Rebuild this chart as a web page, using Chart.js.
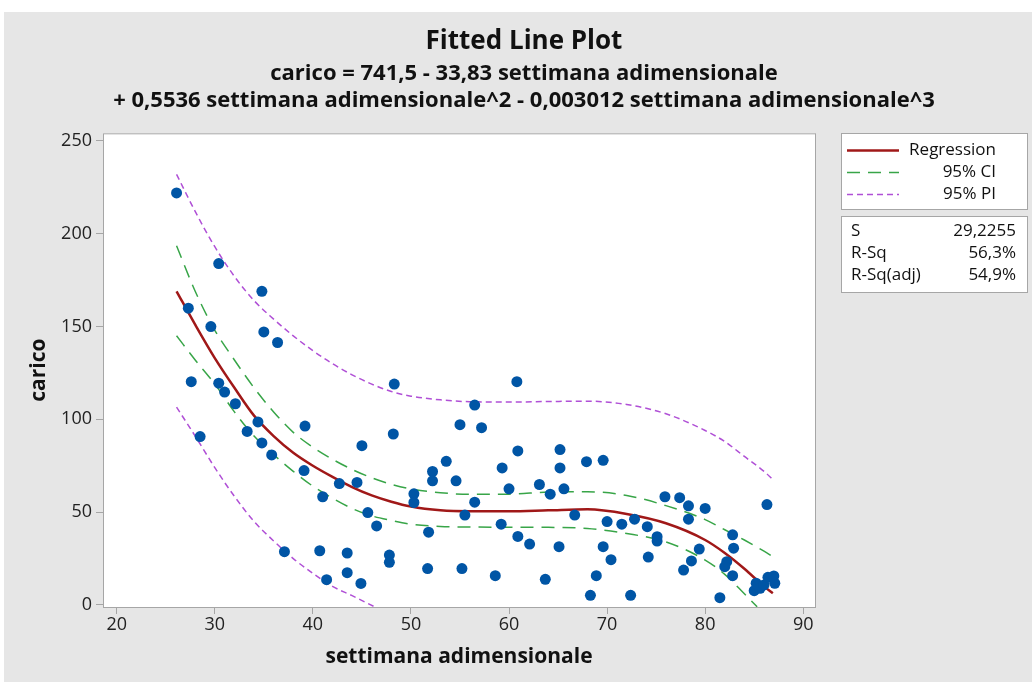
<!DOCTYPE html>
<html>
<head>
<meta charset="utf-8">
<script src="https://cdn.jsdelivr.net/npm/chart.js@4.4.0/dist/chart.umd.min.js"></script>
<style>
  html, body { margin: 0; padding: 0; background: #fff; }
  #wrap { position: absolute; left: 0; top: 0; width: 1032px; height: 682px; }
</style>
</head>
<body>
<div id="wrap"><canvas id="fit" width="1032" height="682"></canvas></div>
<script>
// observed points (settimana adimensionale, carico)
const obsX = [26.1, 30.4, 34.8, 27.3, 29.6, 35.0, 36.4, 27.6, 30.4, 31.0, 32.1, 39.2, 34.4, 33.3, 28.5, 34.8,
  35.8, 39.1, 42.7, 41.0, 37.1, 40.7, 41.4, 48.3, 60.8, 56.5, 55.0, 57.2, 45.0, 48.2, 60.9, 65.2, 53.6, 59.3,
  65.2, 52.2, 52.2, 54.6, 44.5, 60.0, 63.1, 64.2, 65.6, 50.3, 50.3, 56.5, 45.6, 55.5, 66.7, 46.5, 51.8, 59.2,
  60.9, 62.1, 65.1, 43.5, 47.8, 47.8, 43.5, 44.9, 51.7, 55.2, 58.6, 63.7, 67.9, 69.6, 75.9, 77.4, 78.3, 80.0,
  86.3, 70.0, 71.5, 72.8, 74.1, 78.3, 75.1, 75.1, 69.6, 70.4, 74.2, 79.4, 78.6, 77.8, 82.8, 82.9, 82.2, 82.0,
  82.8, 68.9, 68.3, 72.4, 81.5, 85.0, 85.2, 85.6, 86.0, 86.4, 87.0, 87.1];
const obsY = [222.0, 183.9, 169.0, 159.9, 150.0, 147.1, 141.4, 120.3, 119.5, 114.7, 108.4, 96.4, 98.6, 93.5, 90.7, 87.3,
  80.8, 72.4, 65.4, 58.3, 28.7, 29.2, 13.6, 119.0, 120.3, 107.7, 97.1, 95.5, 85.8, 92.1, 83.0, 83.7, 77.4, 73.8,
  73.8, 71.9, 66.9, 66.9, 66.0, 62.6, 64.9, 59.7, 62.6, 59.9, 55.2, 55.4, 49.8, 48.4, 48.4, 42.6, 39.2, 43.5,
  36.9, 32.8, 31.4, 28.0, 26.9, 23.0, 17.4, 11.6, 19.6, 19.6, 15.8, 13.8, 77.2, 77.9, 58.3, 57.8, 53.4, 52.0,
  54.1, 44.9, 43.5, 46.2, 42.2, 46.2, 36.8, 34.4, 31.4, 24.4, 25.8, 30.1, 23.7, 18.8, 37.8, 30.6, 23.3, 20.6,
  15.8, 15.8, 5.2, 5.2, 3.9, 7.7, 11.7, 9.0, 10.8, 14.9, 15.6, 11.7];

// fitted curve and bands
const fitX = [26.1, 28, 30, 32, 34, 36, 38, 40, 42, 44, 46, 48, 50, 53, 56, 60, 64, 68, 72, 76, 80, 82, 84, 86, 86.9];
const fitY = [169, 151, 133, 117, 102, 91, 82, 75, 69, 63.5, 59, 55.6, 53, 51, 50.5, 50.5, 51, 51.5, 49, 44, 35, 28, 19.5, 10, 6.3];
const ciHigh = [193.5, 169, 148, 132, 117, 104, 93, 85, 78.5, 73, 68.5, 65, 62.5, 60.5, 59.6, 59.7, 60.8, 61, 59, 53.5, 46, 40.5, 35, 29, 26];
const piHigh = [232, 212, 193, 177, 164, 154, 145, 137, 130, 124, 119, 115, 112.5, 110.5, 109.5, 109.3, 109.6, 109.8, 108, 103, 94, 88, 80, 72, 67.6];
const ciLowX = [26.1, 28, 30, 32, 34, 36, 38, 40, 42, 44, 46, 48, 50, 53, 56, 60, 64, 68, 72, 76, 80, 82, 84, 85.3];
const ciLowY = [145, 132, 119, 104, 91, 81, 72, 64, 57.5, 52, 48, 45.5, 43.5, 42.3, 42, 41.9, 41.8, 41.2, 38.5, 34, 24.2, 16.5, 6, -1];
const piLowX = [26.1, 28, 30, 32, 34, 36, 38, 40, 42, 44, 46.3];
const piLowY = [106.6, 91, 74, 58.5, 45, 34.5, 25, 17, 10, 5, -1];

const xTicks = [20, 30, 40, 50, 60, 70, 80, 90];
const yTicks = [0, 50, 100, 150, 200, 250];

const legendNames = ['Regression', '95% CI', '95% PI'];
const statNames = ['S', 'R-Sq', 'R-Sq(adj)'];
const statValues = ['29,2255', '56,3%', '54,9%'];

const FONT = "'Open Sans', 'DejaVu Sans', sans-serif";
const BLUE = '#0055a5';
const RED = '#a01818';
const GREEN = '#38a548';
const PURPLE = '#b050d6';

function pairs(xs, ys) {
    return xs.map((x, i) => ({ x: x, y: ys[i] }));
}

const pagePlugin = {
    id: 'page',
    beforeDraw(chart) {
        const ctx = chart.ctx;
        const a = chart.chartArea;
        ctx.save();
        ctx.fillStyle = '#e6e6e6';
        ctx.fillRect(4, 12, chart.width - 4, chart.height - 12);
        ctx.fillStyle = '#ffffff';
        ctx.fillRect(a.left, a.top, a.right - a.left, a.bottom - a.top);
        ctx.restore();
    },
    afterDraw(chart) {
        const ctx = chart.ctx;
        const a = chart.chartArea;
        ctx.save();
        ctx.strokeStyle = '#a6a6a6';
        ctx.lineWidth = 1;
        ctx.strokeRect(a.left + 0.5, a.top + 0.5, a.right - a.left, a.bottom - a.top);

        // legend box
        const bx = 841, bw = 186;
        ctx.fillStyle = '#ffffff';
        ctx.fillRect(bx, 133, bw, 76);
        ctx.strokeRect(bx + 0.5, 133.5, bw, 76);
        ctx.fillRect(bx, 216, bw, 76);
        ctx.strokeRect(bx + 0.5, 216.5, bw, 76);

        const rows = [150, 172, 194];
        const styles = [
            { color: RED, width: 2.5, dash: [] },
            { color: GREEN, width: 1.5, dash: [13, 8] },
            { color: PURPLE, width: 1.5, dash: [6, 4] }
        ];
        styles.forEach((s, i) => {
            ctx.beginPath();
            ctx.strokeStyle = s.color;
            ctx.lineWidth = s.width;
            ctx.setLineDash(s.dash);
            ctx.moveTo(847, rows[i] + 0.5);
            ctx.lineTo(899, rows[i] + 0.5);
            ctx.stroke();
        });
        ctx.setLineDash([]);

        ctx.fillStyle = '#111111';
        ctx.font = '17px ' + FONT;
        ctx.textBaseline = 'middle';
        ctx.textAlign = 'right';
        legendNames.forEach((n, i) => ctx.fillText(n, 996, rows[i]));

        const srows = [231, 253, 275];
        statNames.forEach((n, i) => {
            ctx.textAlign = 'left';
            ctx.fillText(n, 851, srows[i]);
            ctx.textAlign = 'right';
            ctx.fillText(statValues[i], 1016, srows[i]);
        });
        ctx.restore();
    }
};

const ctx = document.getElementById('fit').getContext('2d');

const lineStyle = (color, width, dash) => ({
    showLine: true,
    pointRadius: 0,
    borderColor: color,
    borderWidth: width,
    borderDash: dash,
    cubicInterpolationMode: 'monotone'
});

const chart = new Chart(ctx, {
    type: 'scatter',
    data: {
        datasets: [
            {
                label: 'carico',
                data: pairs(obsX, obsY),
                pointRadius: 5.5,
                pointBackgroundColor: BLUE,
                pointBorderWidth: 0,
                order: 0
            },
            Object.assign({ label: 'Regression', data: pairs(fitX, fitY), order: 1 }, lineStyle(RED, 2.5, [])),
            Object.assign({ label: '95% CI', data: pairs(fitX, ciHigh), order: 2 }, lineStyle(GREEN, 1.5, [13, 8])),
            Object.assign({ label: '95% CI low', data: pairs(ciLowX, ciLowY), order: 2 }, lineStyle(GREEN, 1.5, [13, 8])),
            Object.assign({ label: '95% PI', data: pairs(fitX, piHigh), order: 3 }, lineStyle(PURPLE, 1.5, [6, 4])),
            Object.assign({ label: '95% PI low', data: pairs(piLowX, piLowY), order: 3 }, lineStyle(PURPLE, 1.5, [6, 4]))
        ]
    },
    options: {
        responsive: false,
        animation: false,
        devicePixelRatio: 1,
        layout: { padding: { left: 16, right: 0, top: 0, bottom: 0 } },
        plugins: {
            legend: { display: false },
            tooltip: { enabled: false },
            title: {
                display: true,
                text: 'Fitted Line Plot',
                color: '#111111',
                font: { family: FONT, size: 26, weight: 'bold', lineHeight: 1.2 },
                padding: { top: 26, bottom: 0 }
            },
            subtitle: {
                display: true,
                text: [
                    'carico = 741,5 - 33,83 settimana adimensionale',
                    '+ 0,5536 settimana adimensionale^2 - 0,003012 settimana adimensionale^3'
                ],
                color: '#111111',
                font: { family: FONT, size: 22, weight: 'bold', lineHeight: 1.23 },
                padding: { top: 3, bottom: 19 }
            }
        },
        scales: {
            x: {
                type: 'linear',
                min: 18.6,
                max: 91.2,
                afterBuildTicks: (s) => { s.ticks = xTicks.map(v => ({ value: v })); },
                afterFit: (s) => { s.height = 75; },
                grid: { drawOnChartArea: false, drawTicks: true, tickLength: 7, color: '#a6a6a6' },
                border: { display: false },
                ticks: { color: '#222222', font: { family: FONT, size: 18 }, padding: 0 },
                title: {
                    display: true,
                    text: 'settimana adimensionale',
                    color: '#111111',
                    font: { family: FONT, size: 21, weight: 'bold', lineHeight: 1.2 },
                    padding: { top: 0, bottom: 12 }
                }
            },
            y: {
                type: 'linear',
                min: -1.1,
                max: 254.1,
                afterBuildTicks: (s) => { s.ticks = yTicks.map(v => ({ value: v })); },
                afterFit: (s) => { s.width = 87; },
                grid: { drawOnChartArea: false, drawTicks: true, tickLength: 7, color: '#a6a6a6' },
                border: { display: false },
                ticks: { color: '#222222', font: { family: FONT, size: 18 }, padding: 4 },
                title: {
                    display: true,
                    text: 'carico',
                    color: '#111111',
                    font: { family: FONT, size: 21, weight: 'bold', lineHeight: 1.2 },
                    padding: { top: 10, bottom: 0 }
                }
            },
            side: {
                type: 'linear',
                position: 'right',
                min: -1.1,
                max: 254.1,
                afterFit: (s) => { s.width = 217; },
                grid: { display: false },
                border: { display: false },
                ticks: { display: false }
            }
        }
    },
    plugins: [pagePlugin]
});
</script>
</body>
</html>
